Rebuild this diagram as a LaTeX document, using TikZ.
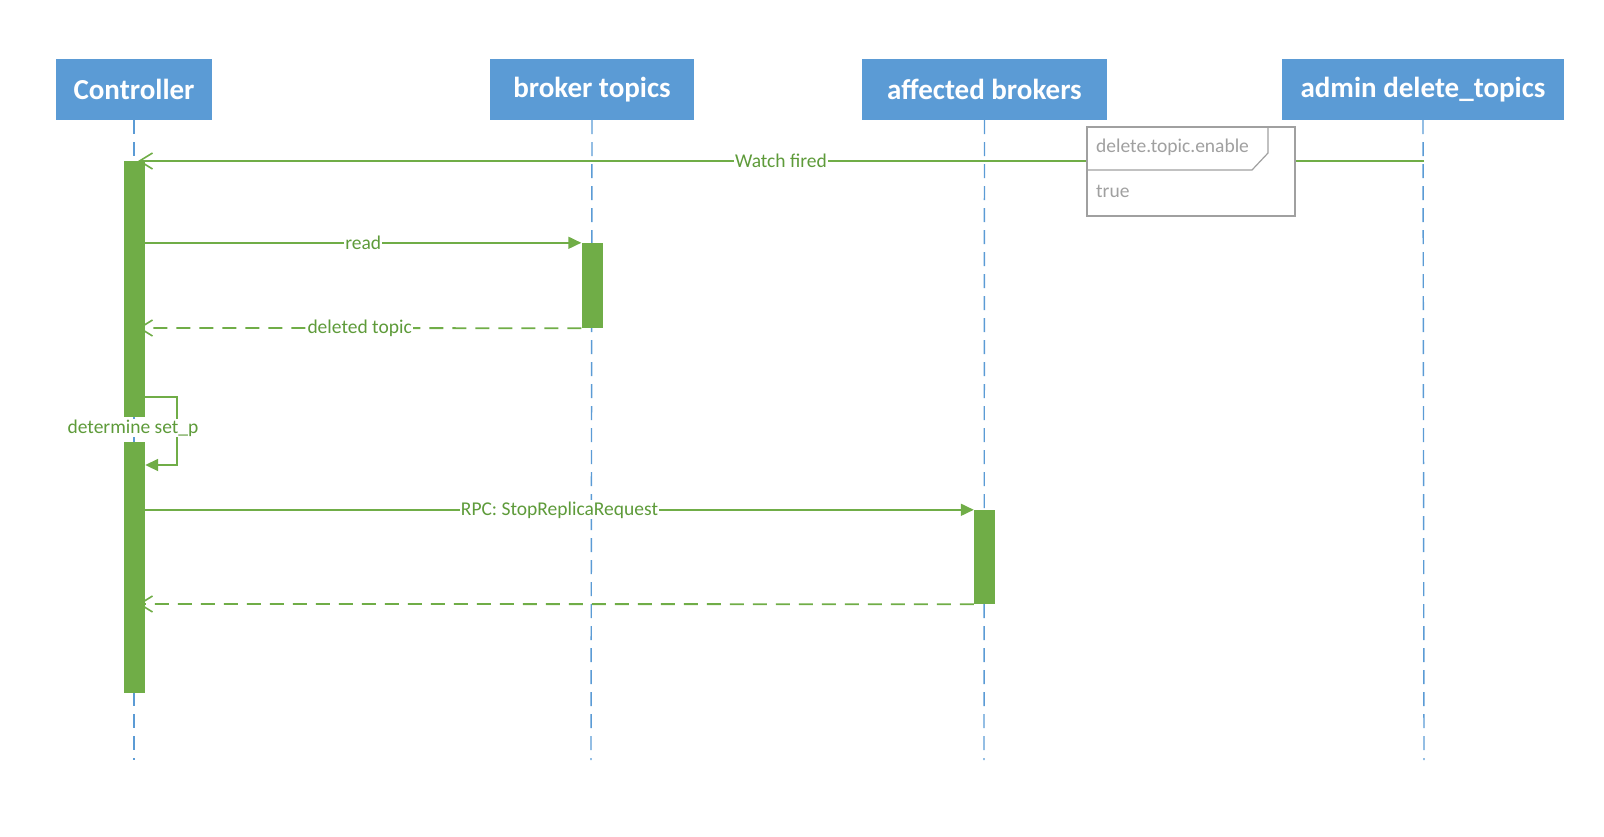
\documentclass[tikz,border=0pt]{standalone}
\usepackage{fontspec}
\setmainfont{Carlito}
\usetikzlibrary{arrows.meta}
\definecolor{hblue}{HTML}{5B9BD5}
\definecolor{gbar}{HTML}{70AD47}
\definecolor{gtext}{HTML}{5E9B3A}
\definecolor{ngray}{HTML}{A0A0A0}
\begin{document}
\begin{tikzpicture}[x=1pt,y=-1pt,
  head/.style={fill=hblue, text=white, font=\fontsize{29}{33}\selectfont\bfseries, minimum height=61pt, inner sep=0pt},
  life/.style={hblue, line width=1.4pt, dash pattern=on 14pt off 8pt},
  bar/.style={fill=gbar, minimum width=21pt, inner sep=0pt},
  msg/.style={gbar, line width=1.8pt},
  ret/.style={gbar, line width=1.8pt, dash pattern=on 14pt off 9pt},
  lbl/.style={fill=white, text=gtext, font=\fontsize{19.5}{22}\selectfont, inner sep=1pt},
  opentip/.style={-{Straight Barb[length=13pt,width=16pt,line width=1.6pt]}},
  filltip/.style={-{Triangle[length=13pt,width=12pt]}},
  notetext/.style={text=ngray, font=\fontsize{19.5}{22}\selectfont, anchor=west, inner sep=0pt}
]
\useasboundingbox (0,0) rectangle (1604,836);
% headers
\node[head, minimum width=156pt] (ctrl) at (134,89.5) {Controller};
\node[head, minimum width=204pt] (brk) at (592,89.5) {broker topics};
\node[head, minimum width=245pt] (aff) at (984.5,89.5) {affected brokers};
\node[head, minimum width=282pt] (adm) at (1423,89.5) {admin delete\_topics};
% lifeline ends
\coordinate (ctrlEnd) at (134,760);
\coordinate (brkEnd) at (591,760);
\coordinate (affEnd) at (984,760);
\coordinate (admEnd) at (1424,760);
\draw[life] (ctrl.south) -- (ctrlEnd);
\draw[life] (brk.south) -- (brkEnd);
\draw[life] (aff.south) -- (affEnd);
\draw[life] (adm.south) -- (admEnd);
% activation bars
\node[bar, minimum height=256pt] (cA) at (134.5,289) {};
\node[bar, minimum height=251pt] (cB) at (134.5,567.5) {};
\node[bar, minimum height=85pt] (bt) at (592,285.5) {};
\node[bar, minimum height=94pt] (ab) at (984.5,557) {};
% message points
\coordinate (wfS) at (1424,161);
\coordinate (wfE) at (138,161);
\coordinate (dtE) at (138,328);
\coordinate (s1) at (177,397);
\coordinate (s2) at (177,465);
\coordinate (rrE) at (138,604);
% messages
\draw[msg, opentip] (wfS) -- node[lbl, pos=0.5] (wfL) {Watch fired} (wfE);
\draw[msg, filltip] (cA.east |- bt.north) -- node[lbl] (rdL) {read} (bt.north west);
\draw[ret, opentip] (bt.south west) -- node[lbl] (dtL) {deleted topic} (dtE);
\draw[msg, filltip] (cA.east |- s1) -- (s1) -- (s2) -- (cB.east |- s2);
\node[lbl] (selfL) at (133,428) {determine set\_p};
\draw[msg, filltip] (cB.east |- ab.north) -- node[lbl] (rpcL) {RPC: StopReplicaRequest} (ab.north west);
\draw[ret, opentip] (ab.south west) -- (rrE);
% note
\node[draw=ngray, fill=white, line width=1.2pt, minimum width=208pt, minimum height=89pt, inner sep=0pt] (note) at (1191,171.5) {};
\coordinate (tabA) at (1252,170);
\coordinate (tabB) at (1268,153);
\draw[ngray, line width=1.2pt] (note.west |- tabA) -- (tabA) -- (tabB) -- (tabB |- note.north);
\node[notetext] (nt1) at (1096,147) {delete.topic.enable};
\node[notetext] (nt2) at (1096,191) {true};
\end{tikzpicture}
\end{document}
